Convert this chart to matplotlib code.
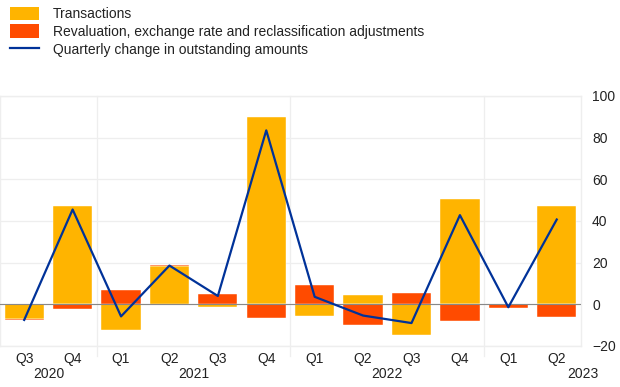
import matplotlib
matplotlib.use("Agg")
import matplotlib.pyplot as plt
import numpy as np
from matplotlib.patches import Patch
from matplotlib.lines import Line2D

plt.rcParams['font.family'] = ['Liberation Sans', 'DejaVu Sans']

quarters = ["Q3", "Q4", "Q1", "Q2", "Q3", "Q4", "Q1", "Q2", "Q3", "Q4", "Q1", "Q2"]
years = ["2020", "2021", "2022", "2023"]
year_pos = [0.5, 3.5, 7.5, 11.55]
transactions = [-7.0, 47.3, -12.5, 18.2, -1.3, 89.7, -5.8, 4.6, -14.6, 50.5, 0.3, 47.0]
revaluation = [-0.5, -2.2, 6.7, 0.6, 5.1, -6.7, 9.5, -10.1, 5.4, -8.0, -1.6, -6.3]
quarterly_change = [-7.5, 45.5, -5.8, 18.6, 4.0, 83.5, 3.6, -5.4, -9.0, 42.8, -1.4, 40.7]

c_tr = "#FFB400"
c_rv = "#FF4B00"
c_ln = "#003299"

fig = plt.figure(figsize=(6.2, 3.87), dpi=100)
ax = fig.add_axes([0.0, 0.106, 0.937, 0.646])

x = np.arange(len(quarters))
tr = np.array(transactions)
rv = np.array(revaluation)
rv_bottom = np.where(np.sign(rv) == np.sign(tr), tr, 0.0)

ax.bar(x, tr, width=0.81, color=c_tr, edgecolor="white", linewidth=0.3, zorder=2)
ax.bar(x, rv, bottom=rv_bottom, width=0.81, color=c_rv, edgecolor="white", linewidth=0.3, zorder=2)
ax.plot(x, quarterly_change, color=c_ln, linewidth=1.6, zorder=4)

ax.axhline(0, color="#888888", linewidth=0.8, zorder=3)

ax.set_xlim(-0.5, len(quarters) - 0.5)
ax.set_ylim(-20, 100)
ax.set_yticks([-20, 0, 20, 40, 60, 80, 100])
ax.yaxis.tick_right()
ax.tick_params(axis='y', length=0, pad=8, labelsize=10, colors="#222222")
ax.tick_params(axis='x', length=0, pad=4, labelsize=10, colors="#222222")
ax.set_xticks(x)
ax.set_xticklabels(quarters)
ax.grid(axis='y', color="#eeeeee", linewidth=0.9, zorder=0)
ax.set_axisbelow(True)
for s in ax.spines.values():
    s.set_color("#eeeeee")
    s.set_linewidth(1.0)

# year separators
for sep in [1.5, 5.5, 9.5]:
    ax.plot([sep, sep], [100, -25], color="#eeeeee", linewidth=0.9, clip_on=False, zorder=0)

trans = ax.get_xaxis_transform()
for yr, p in zip(years, year_pos):
    ax.text(p, -0.085, yr, transform=trans, ha="center", va="top", fontsize=10, color="#222222")

handles = [Patch(facecolor=c_tr, edgecolor="none"),
           Patch(facecolor=c_rv, edgecolor="none"),
           Line2D([0], [0], color=c_ln, linewidth=1.6)]
labels = ["Transactions", "Revaluation, exchange rate and reclassification adjustments",
          "Quarterly change in outstanding amounts"]
fig.legend(handles, labels, loc="upper left", bbox_to_anchor=(0.0, 1.008), frameon=False,
           fontsize=10, handlelength=2.1, handleheight=1.1, handletextpad=1.0,
           labelspacing=0.25, borderaxespad=0.3, labelcolor="#222222")

fig.savefig("out.png", dpi=100)
